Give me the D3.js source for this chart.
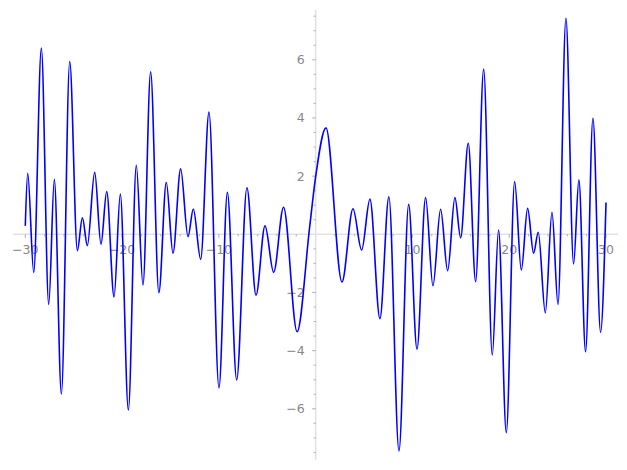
<!DOCTYPE html>
<html>
<head>
<meta charset="utf-8">
<script src="https://cdn.jsdelivr.net/npm/d3@7"></script>
<style>
  body { margin: 0; background: #fff; }
  svg { display: block; }
  .lbl { font-family: "DejaVu Sans", sans-serif; font-size: 12.5px; fill: #888; }
</style>
</head>
<body>
<script>
// Local extrema (plus a couple of shape points)
let xs = [-30, -29.75, -29.13, -28.34, -27.58, -27.0, -26.27, -25.41, -24.62, -24.1,
  -23.59, -22.83, -22.18, -21.59, -20.83, -20.18, -19.35, -18.53, -17.84, -17.05,
  -16.2, -15.43, -14.74, -13.95, -13.19, -12.64, -11.88, -11.02, -9.99, -9.12,
  -8.16, -7.1, -6.16, -5.23, -4.34, -3.32, -1.92, -0.62, 0, 1.07,
  2.72, 3.86, 4.75, 5.61, 6.64, 7.57, 8.61, 9.61, 10.47, 11.36,
  12.12, 12.91, 13.64, 14.39, 14.98, 15.77, 16.53, 17.36, 18.25, 18.9,
  19.7, 20.56, 21.25, 21.9, 22.52, 23.0, 23.73, 24.42, 25.04, 25.86,
  26.65, 27.2, 27.89, 28.65, 29.44, 30];
let ys = [0.29, 2.1, -1.31, 6.4, -2.41, 1.89, -5.49, 5.94, -0.56, 0.57,
  -0.39, 2.13, -0.34, 1.47, -2.15, 1.38, -6.04, 2.37, -1.74, 5.59,
  -2.01, 1.78, -0.65, 2.25, -0.08, 0.87, -0.86, 4.2, -5.28, 1.44,
  -5.01, 1.6, -2.09, 0.29, -1.31, 0.93, -3.35, 0.25, 1.98, 3.66,
  -1.64, 0.88, -0.54, 1.21, -2.9, 1.29, -7.45, 1.03, -3.95, 1.26,
  -1.77, 0.86, -1.25, 1.26, -0.12, 3.13, -1.63, 5.68, -4.15, 0.15,
  -6.82, 1.81, -1.23, 0.89, -0.65, 0.07, -2.7, 0.76, -2.41, 7.43,
  -1.02, 1.87, -4.04, 3.99, -3.37, 1.09];

let xMajor = [-30, -20, -10, 10, 20, 30];
let yMajor = [-6, -4, -2, 2, 4, 6];
let xExtent = [-31.25, 31.25];
let yExtent = [-7.76, 7.72];

let width = 627, height = 470;

let x = d3.scaleLinear().domain([-30, 30]).range([25.3, 606]);
let y = d3.scaleLinear().domain([-6, 6]).range([408.8, 59.8]);

let svg = d3.select("body").append("svg")
  .attr("width", width)
  .attr("height", height);

// axis lines through the origin
svg.append("line")
  .attr("x1", x(xExtent[0])).attr("x2", x(xExtent[1]))
  .attr("y1", y(0)).attr("y2", y(0))
  .style("stroke", "#e2e2e2").style("stroke-width", 1.6);
svg.append("line")
  .attr("x1", x(0)).attr("x2", x(0))
  .attr("y1", y(yExtent[0])).attr("y2", y(yExtent[1]))
  .style("stroke", "#e2e2e2").style("stroke-width", 1.6);

// x ticks: minor every 2, major every 10
let xTicks = d3.range(-30, 30.01, 2).filter(function(t) { return t !== 0; });
svg.selectAll(".xtick").data(xTicks)
  .enter().append("line")
  .attr("class", "xtick")
  .attr("x1", function(t) { return x(t); })
  .attr("x2", function(t) { return x(t); })
  .attr("y1", y(0))
  .attr("y2", function(t) { return y(0) + (t % 10 === 0 ? 3.5 : 2); })
  .style("stroke", "#999").style("stroke-width", 0.8);

// y ticks: minor every 0.5, major every 2
let yTicks = d3.range(-7.5, 7.51, 0.5).filter(function(t) { return t !== 0; });
svg.selectAll(".ytick").data(yTicks)
  .enter().append("line")
  .attr("class", "ytick")
  .attr("y1", function(t) { return y(t); })
  .attr("y2", function(t) { return y(t); })
  .attr("x1", x(0))
  .attr("x2", function(t) { return x(0) - (t % 2 === 0 ? 3.5 : 2); })
  .style("stroke", "#999").style("stroke-width", 0.8);

let fmt = function(v) { return v < 0 ? "\u2212" + Math.abs(v) : String(v); };

svg.selectAll(".xlbl").data(xMajor)
  .enter().append("text")
  .attr("class", "lbl")
  .attr("x", function(t) { return x(t); })
  .attr("y", y(0) + 20)
  .attr("text-anchor", "middle")
  .text(fmt);

svg.selectAll(".ylbl").data(yMajor)
  .enter().append("text")
  .attr("class", "lbl")
  .attr("x", x(0) - 11)
  .attr("y", function(t) { return y(t) + 4.5; })
  .attr("text-anchor", "end")
  .text(fmt);

// the curve
let points = xs.map(function(v, i) { return [v, ys[i]]; });
let line = d3.line()
  .x(function(d) { return x(d[0]); })
  .y(function(d) { return y(d[1]); })
  .curve(d3.curveMonotoneX);

svg.append("path")
  .datum(points)
  .attr("d", line)
  .style("fill", "none")
  .style("stroke", "#0000ff")
  .style("stroke-width", 1.6);
</script>
</body>
</html>
